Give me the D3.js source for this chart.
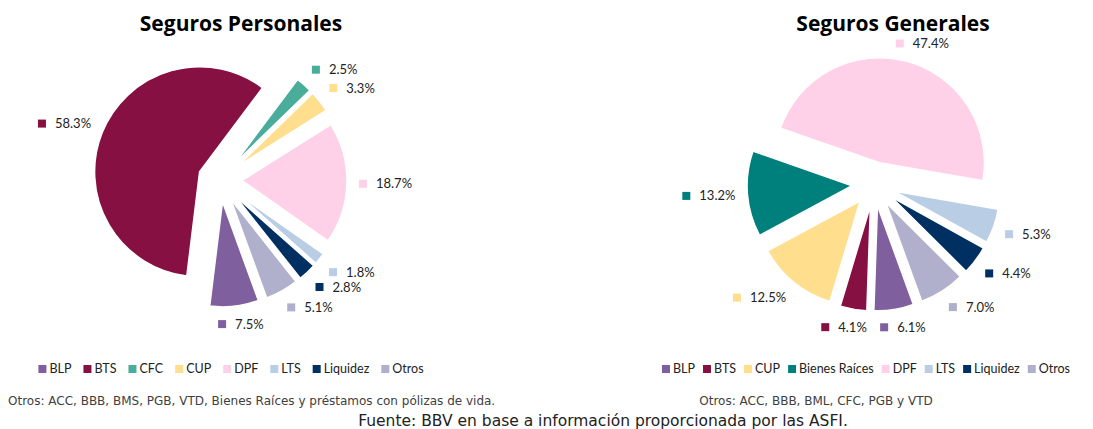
<!DOCTYPE html>
<html lang="es">
<head>
  <meta charset="UTF-8" />
  <title>Seguros Personales y Generales</title>
  <script src="https://d3js.org/d3.v7.min.js"></script>
  <style>
    body { margin:0; padding:0; background:#fff; }
    svg { display:block; }
    .title { font-family:"Open Sans", sans-serif; font-weight:700; font-size:21px; fill:#000; }
    .lbl { font-family:Lato, "Open Sans", sans-serif; font-size:13px; fill:#222; }
    .leg { font-family:Lato, "Open Sans", sans-serif; font-size:12.5px; fill:#222; }
    .note { font-family:"DejaVu Sans", sans-serif; font-size:12px; fill:#404040; }
    .src { font-family:"DejaVu Sans", sans-serif; font-size:15.5px; fill:#222; }
  </style>
</head>
<body>
<svg width="1093" height="429"></svg>
<script>
// data
const persLabels = ["BLP", "BTS", "CFC", "CUP", "DPF", "LTS", "Liquidez", "Otros"];
const persValues = [7.5, 58.3, 2.5, 3.3, 18.7, 1.8, 2.8, 5.1];
const genLabels  = ["BLP", "BTS", "CUP", "Bienes Raíces", "DPF", "LTS", "Liquidez", "Otros"];
const genValues  = [6.1, 4.1, 12.5, 13.2, 47.4, 5.3, 4.4, 7.0];

const colors = {
  "BLP": "#7f5f9e",
  "BTS": "#861042",
  "CFC": "#4aac9a",
  "CUP": "#ffde8e",
  "DPF": "#ffd1e8",
  "LTS": "#b9cde5",
  "Liquidez": "#002f62",
  "Otros": "#b0b0cc",
  "Bienes Raíces": "#00807c"
};

const svg = d3.select("svg");
const R = 105, EXPLODE = 22, LABEL_R = 139;
const startDeg = 160;
const clamp = v => Math.max(-1, Math.min(1, v));

function drawPie(cfg) {
  const g = svg.append("g");
  const data = cfg.labels.map((k, i) => ({ key: k, value: cfg.values[i] }));

  const pie = d3.pie().sort(null).value(d => d.value)
    .startAngle(startDeg * Math.PI / 180)
    .endAngle(startDeg * Math.PI / 180 + 2 * Math.PI);
  const arc = d3.arc().innerRadius(0).outerRadius(R);
  const arcs = pie(data);

  g.append("text").attr("class", "title")
    .attr("x", cfg.titleX).attr("y", 31)
    .attr("text-anchor", "middle")
    .text(cfg.title);

  const mid = d => (d.startAngle + d.endAngle) / 2;

  g.selectAll("path.slice").data(arcs).enter().append("path")
    .attr("class", "slice")
    .attr("d", arc)
    .attr("fill", d => colors[d.data.key])
    .attr("stroke", "#fff").attr("stroke-width", 1.5)
    .attr("transform", d => {
      const m = mid(d);
      return `translate(${cfg.cx + Math.sin(m) * EXPLODE},${cfg.cy - Math.cos(m) * EXPLODE})`;
    });

  // data labels: marker + percent, pushed outward from the slice
  const lab = g.selectAll("g.lab").data(arcs).enter().append("g").attr("class", "lab");
  lab.append("rect").attr("width", 8).attr("height", 8).attr("x", 0).attr("y", -4)
    .attr("fill", d => colors[d.data.key]);
  lab.append("text").attr("class", "lbl").attr("x", 17).attr("dy", "0.35em")
    .text(d => d3.format(".1f")(d.data.value) + "%");
  lab.each(function(d) {
    const w = this.getBBox().width, h = 12;
    const m = mid(d);
    const s = Math.sin(m), c = -Math.cos(m);
    const bx = cfg.cx + s * LABEL_R + clamp(s * 2) * w / 2;
    const by = cfg.cy + c * LABEL_R + clamp(c * 2) * h / 2;
    d3.select(this).attr("transform", `translate(${bx - w / 2},${by})`);
  });

  // legend
  const leg = g.append("g");
  let x = 0;
  cfg.labels.forEach(k => {
    const it = leg.append("g").attr("transform", `translate(${x},0)`);
    it.append("rect").attr("width", 8).attr("height", 8).attr("y", -4).attr("fill", colors[k]);
    const t = it.append("text").attr("class", "leg").attr("x", 11).attr("dy", "0.35em").text(k);
    x += 11 + t.node().getComputedTextLength() + cfg.legGap;
  });
  const legW = x - cfg.legGap;
  leg.attr("transform", `translate(${cfg.legX - legW / 2},369)`);

  g.append("text").attr("class", "note")
    .attr("x", cfg.noteX).attr("y", 405)
    .attr("text-anchor", cfg.noteAnchor)
    .text(cfg.note);
}

drawPie({
  title: "Seguros Personales", titleX: 241,
  labels: persLabels, values: persValues,
  cx: 220, cy: 180, legX: 231, legGap: 12,
  note: "Otros: ACC, BBB, BMS, PGB, VTD, Bienes Raíces y préstamos con pólizas de vida.",
  noteX: 8, noteAnchor: "start"
});

drawPie({
  title: "Seguros Generales", titleX: 893,
  labels: genLabels, values: genValues,
  cx: 874, cy: 184, legX: 866, legGap: 8,
  note: "Otros: ACC, BBB, BML, CFC, PGB y VTD",
  noteX: 816, noteAnchor: "middle"
});

svg.append("text").attr("class", "src")
  .attr("x", 603).attr("y", 426)
  .attr("text-anchor", "middle")
  .text("Fuente: BBV en base a información proporcionada por las ASFI.");
</script>
</body>
</html>
